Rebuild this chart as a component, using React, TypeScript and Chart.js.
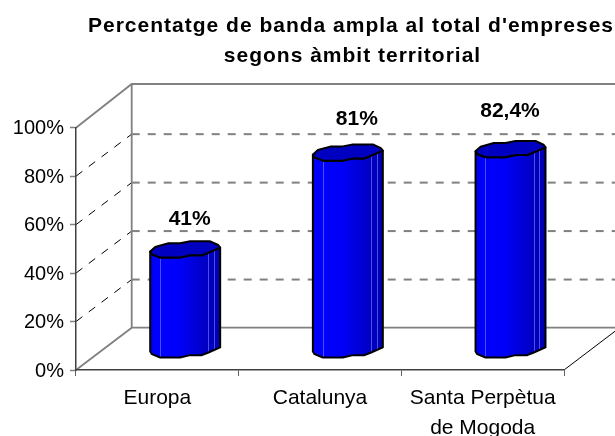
import React, { useEffect, useRef } from "react";
import { Chart, registerables } from "chart.js";

Chart.register(...registerables);

const titleLines = ["Percentatge de banda ampla al total d'empreses", "segons àmbit territorial"];
const categories = [["Europa"], ["Catalunya"], ["Santa Perpètua", "de Mogoda"]];
const values = [41, 81, 82.4];
const yTicks = [0, 20, 40, 60, 80, 100];

const FONT = '"Liberation Sans", Arial, sans-serif';
const DEPTH_X = 55.7;
const DEPTH_Y = -43.7;
const DASH_DEPTH_Y = -42;
const FLOOR_DEPTH_Y = -42.3;
const labelNudge = [
  [4.5, -30],
  [9, -33.5],
  [-0.5, -37.5],
];

// Faceted outline of the cylinder cap (relative to its centre, for a 70px-wide bar)
const capBack = [
  [-35, 2.3], [-30, -2.3], [-16.7, -6], [-5, -6], [5, -8], [25, -8], [33, -4.3], [35, -1.7],
];
const capFront = [
  [35, -1.7], [23.3, 3.3], [16.7, 6], [5, 6], [-5, 8.3], [-25, 8.3], [-33.3, 5], [-35, 2.3],
];
const stripes = [0.14, 0.83, 0.91];

const walls = {
  id: "walls",
  beforeDraw(chart: any) {
    const { ctx, width, scales } = chart;
    const y = scales.y;
    const x = scales.x;
    const left = x.left;
    const right = x.right;
    const bx = left + DEPTH_X;
    const yTop = y.getPixelForValue(100);
    const yBot = y.getPixelForValue(0);
    ctx.save();
    ctx.fillStyle = "#fff";
    ctx.fillRect(0, 0, width, chart.height);
    yTicks.slice(1, -1).forEach((v) => {
      const py = y.getPixelForValue(v);
      ctx.strokeStyle = "#000";
      ctx.lineWidth = 1;
      ctx.setLineDash([8, 8]);
      ctx.beginPath();
      ctx.moveTo(left, py);
      ctx.lineTo(bx, py + DASH_DEPTH_Y);
      ctx.stroke();
      ctx.strokeStyle = "#808080";
      ctx.lineWidth = 2;
      ctx.setLineDash([8, 8]);
      ctx.beginPath();
      ctx.moveTo(bx, py + DASH_DEPTH_Y);
      ctx.lineTo(width, py + DASH_DEPTH_Y);
      ctx.stroke();
    });
    ctx.setLineDash([]);
    ctx.strokeStyle = "#808080";
    ctx.lineWidth = 1.8;
    ctx.beginPath();
    ctx.moveTo(left, yTop);
    ctx.lineTo(bx, yTop + DEPTH_Y);
    ctx.lineTo(width, yTop + DEPTH_Y);
    ctx.moveTo(bx, yTop + DEPTH_Y);
    ctx.lineTo(bx, yBot + FLOOR_DEPTH_Y);
    ctx.lineTo(width, yBot + FLOOR_DEPTH_Y);
    ctx.moveTo(bx, yBot + FLOOR_DEPTH_Y);
    ctx.lineTo(left, yBot);
    ctx.stroke();
    ctx.strokeStyle = "#000";
    ctx.lineWidth = 1;
    ctx.beginPath();
    ctx.moveTo(right, yBot);
    ctx.lineTo(right + DEPTH_X, yBot + FLOOR_DEPTH_Y);
    ctx.stroke();
    ctx.restore();
  },
};

const trace = (ctx: any, pts: number[][], cx: number, cy: number, k: number, start: boolean) => {
  pts.forEach(([dx, dy], i) => {
    if (i === 0 && start) ctx.moveTo(cx + dx * k, cy + dy);
    else ctx.lineTo(cx + dx * k, cy + dy);
  });
};

const cylinders = {
  id: "cylinders",
  beforeDatasetDraw(chart: any, args: any) {
    const { ctx } = chart;
    const meta = args.meta;
    meta.data.forEach((bar: any, i: number) => {
      const cx = bar.x + DEPTH_X / 2;
      const topY = bar.y + DEPTH_Y / 2 + 0.5;
      const botY = bar.base + DEPTH_Y / 2 + 1.5;
      const w = bar.width;
      const k = w / 70;
      const bodyPath = () => {
        ctx.beginPath();
        trace(ctx, capFront, cx, topY, k, true);
        trace(ctx, [...capFront].reverse(), cx, botY, k, false);
        ctx.closePath();
      };
      ctx.save();
      ctx.lineJoin = "round";
      const grad = ctx.createLinearGradient(cx - w / 2, 0, cx + w / 2, 0);
      grad.addColorStop(0, "#0000ee");
      grad.addColorStop(0.1, "#0000ff");
      grad.addColorStop(0.42, "#0000f8");
      grad.addColorStop(0.8, "#0000c4");
      grad.addColorStop(1, "#0000b0");
      bodyPath();
      ctx.fillStyle = grad;
      ctx.fill();
      ctx.save();
      ctx.clip();
      ctx.strokeStyle = "rgba(110,110,255,0.7)";
      ctx.lineWidth = 1;
      stripes.forEach((s) => {
        const sx = Math.round(cx - w / 2 + s * w) + 0.5;
        ctx.beginPath();
        ctx.moveTo(sx, topY - 10);
        ctx.lineTo(sx, botY + 10);
        ctx.stroke();
      });
      ctx.restore();
      bodyPath();
      ctx.strokeStyle = "#000";
      ctx.lineWidth = 2;
      ctx.stroke();
      ctx.beginPath();
      trace(ctx, capBack, cx, topY, k, true);
      trace(ctx, capFront, cx, topY, k, false);
      ctx.closePath();
      ctx.fillStyle = "#0000c0";
      ctx.fill();
      ctx.stroke();
      ctx.restore();
      const v = values[i];
      ctx.save();
      ctx.font = `bold 21px ${FONT}`;
      ctx.fillStyle = "#000";
      ctx.textAlign = "center";
      ctx.textBaseline = "middle";
      ctx.fillText(`${String(v).replace(".", ",")}%`, cx + labelNudge[i][0], topY + labelNudge[i][1]);
      ctx.restore();
    });
    return false;
  },
};

const heading = {
  id: "heading",
  afterDraw(chart: any) {
    const { ctx } = chart;
    ctx.save();
    ctx.font = `bold 21px ${FONT}`;
    ctx.fillStyle = "#000";
    ctx.textAlign = "center";
    ctx.textBaseline = "alphabetic";
    (ctx as any).letterSpacing = "1px";
    ctx.fillText(titleLines[0], 351, 32);
    ctx.fillText(titleLines[1], 352.5, 62);
    ctx.restore();
  },
};

export default function App() {
  const ref = useRef<HTMLCanvasElement>(null);
  useEffect(() => {
    const chart = new Chart(ref.current as HTMLCanvasElement, {
      type: "bar",
      data: {
        labels: categories as any,
        datasets: [
          {
            data: values,
            backgroundColor: "#0000ff",
            borderColor: "#000000",
            barPercentage: 0.43,
            categoryPercentage: 1,
          },
        ],
      },
      options: {
        responsive: false,
        animation: false,
        layout: { padding: { top: 127.7, right: 51, left: 0, bottom: 0 } },
        plugins: { legend: { display: false }, tooltip: { enabled: false }, title: { display: false } },
        scales: {
          x: {
            afterFit: (s: any) => {
              s.height = 66;
            },
            grid: {
              offset: true,
              drawOnChartArea: false,
              drawTicks: true,
              tickLength: 6,
              tickColor: "#606060",
              tickWidth: 1,
            },
            border: { display: true, color: "#404040", width: 1.5 },
            ticks: {
              font: { family: FONT, size: 21, lineHeight: 1.43 },
              color: "#000",
              padding: 7,
              maxRotation: 0,
              autoSkip: false,
            } as any,
          },
          y: {
            min: 0,
            max: 100,
            afterFit: (s: any) => {
              s.width = 76;
            },
            afterBuildTicks: (s: any) => {
              s.ticks = yTicks.map((value) => ({ value }));
            },
            grid: {
              drawOnChartArea: false,
              drawTicks: true,
              tickLength: 6,
              tickColor: "#808080",
              tickWidth: 1.5,
            },
            border: { display: true, color: "#404040", width: 1.5 },
            ticks: {
              font: { family: FONT, size: 20 },
              color: "#000",
              padding: 6,
              labelOffset: 1,
              callback: (v: any) => `${v}%`,
            },
          },
        },
      },
      plugins: [walls, cylinders, heading],
    });
    return () => chart.destroy();
  }, []);
  return (
    <div style={{ position: "absolute", left: 0, top: 0, width: 615, height: 436 }}>
      <canvas ref={ref} width={615} height={436} style={{ display: "block" }} />
    </div>
  );
}
